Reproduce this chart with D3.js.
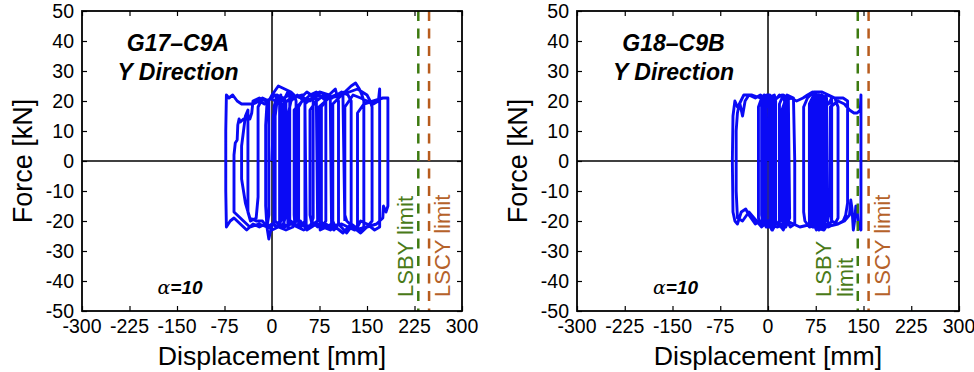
<!DOCTYPE html>
<html>
<head>
<meta charset="utf-8">
<script src="https://cdn.jsdelivr.net/npm/d3@7"></script>
<style>
  body { margin: 0; background: #fff; }
  svg { display: block; font-family: "Liberation Sans", Arial, sans-serif; }
</style>
</head>
<body>
<div id="chart"></div>
<script>
// ticks
var xTicks = [-300, -225, -150, -75, 0, 75, 150, 225, 300];
var yTicks = [-50, -40, -30, -20, -10, 0, 10, 20, 30, 40, 50];

// specimen names and limit positions (mm)
var specimens = ['G17\u2013C9A', 'G18\u2013C9B'];
var lsbyLimit = [231, 141];
var lscyLimit = [248, 158];

// hysteresis traces: [displacement mm, force kN]
var loopG17 = [
  [0,0],[2,15],[8,22],[15,21],[22,20],[22,-18],[18,-21],[8,-22],[0,-21],[-8,-22],
  [-10,-15],[-10,12],[-8,19],[-2,21],[5,20],[12,19],[14,22],[14,-20],[10,-22],[0,-23],
  [-10,-21],[-20,-22],[-30,-21],[-40,-23],[-50,-21],[-60,-19],[-66,-20],[-72,-22],[-73,-10],
  [-73,10],[-72,22],[-68,21],[-62,22],[-55,20],[-48,19],[-40,19],[-30,19],[-20,20],
  [-12,19],[-5,20],[-5,-18],[-8,-22],[-15,-20],[-25,-20],[-35,-19],[-42,-14],[-48,-6],
  [-48,5],[-45,10],[-42,15],[-38,17],[-38,0],[-38,-17],[-34,-20],[-25,-19],[-22,-12],
  [-22,18],[-15,21],[-5,20],[0,22],[10,25],[20,24],[30,23],[35,22],[38,20],[38,-20],
  [33,-22],[22,-23],[10,-22],[0,-21],[-5,-26],[-8,-22],[-20,-21],[-35,-22],[-45,-20],
  [-55,-18],[-60,-17],[-60,2],[-58,6],[-55,7],[-54,12],[-52,14],[-50,13],[-45,14],
  [-35,14],[-32,16],[-30,20],[-20,21],[-10,20],[0,21],[5,22],[18,20],[25,23],[32,22],
  [45,21],[55,23],[62,22],[65,20],[65,-19],[60,-22],[50,-21],[40,-22],[30,-20],[25,-22],
  [25,15],[30,20],[40,22],[50,20],[60,22],[70,23],[80,21],[85,20],[85,-20],[78,-22],
  [70,-21],[55,-23],[45,-20],[42,-22],[42,18],[50,21],[60,20],[75,23],[90,22],[100,24],
  [105,20],[105,-21],[98,-23],[85,-21],[72,-22],[62,-20],[60,-18],[60,17],[70,20],[82,22],
  [95,21],[110,23],[120,22],[125,20],[125,-22],[118,-24],[105,-21],[92,-23],[80,-22],
  [78,-20],[78,18],[88,21],[100,22],[115,23],[125,25],[132,26],[138,24],[142,22],[145,20],
  [145,-22],[138,-23],[125,-21],[112,-24],[100,-22],[96,-20],[96,19],[110,22],[122,23],
  [135,24],[150,22],[155,20],[158,18],[158,-20],[150,-22],[140,-24],[128,-22],[118,-20],
  [115,-18],[115,18],[128,22],[140,21],[150,20],[160,19],[168,20],[170,24],[170,-22],
  [162,-23],[150,-21],[140,-20],[135,-22],[135,16],[145,19],[160,20],[175,21],[183,21],
  [183,5],[183,-15],[180,-17],[176,-15],[175,-19],[165,-21],[150,-22],[130,-23],[110,-21],
  [90,-22],[70,-21],[50,-23],[30,-21],[15,-22],[5,-20],[5,15],[8,20],[12,21],[12,-20],
  [8,-22],[3,-21],[3,18],[8,22],[18,21],[28,22],[28,-21],[20,-22],[18,-19],[18,19],
  [30,21],[48,22],[52,20],[52,-20],[46,-22],[36,-21],[35,-18],[35,17],[48,20],[70,21],
  [72,-20],[65,-21],[54,-22],[52,19],[68,22],[92,21],[94,-21],[86,-22],[76,-23],[74,18],
  [90,21],[112,22],[115,-20]
];

var loopG18 = [
  [0,0],[2,18],[5,21],[8,20],[8,-20],[4,-22],[-2,-21],[-5,-20],[-5,18],[-2,21],[3,22],
  [6,20],[6,-19],[2,-22],[-8,-21],[-10,-18],[-10,19],[-6,22],[0,21],[10,22],[12,20],
  [12,-21],[7,-23],[0,-20],[-3,-22],[-3,20],[2,22],[5,19],[5,-22],[0,-21],[-12,-20],
  [-20,-21],[-30,-18],[-35,-16],[-42,-17],[-48,-21],[-52,-20],[-55,-17],[-56,0],[-55,15],
  [-52,20],[-48,18],[-44,19],[-40,15],[-36,20],[-30,22],[-20,21],[-12,22],[-5,21],[0,22],
  [3,20],[3,-21],[-2,-22],[-8,-20],[-8,17],[-4,21],[2,20],[4,-20],[0,-22],[-6,-21],[-6,20],
  [0,22],[6,21],[10,-21],[4,-22],[-12,-21],[-15,-19],[-15,18],[-10,21],[-2,22],[9,21],
  [10,18],[10,-19],[6,-23],[0,-20],[-10,-22],[-18,-20],[-30,-17],[-40,-20],[-48,-19],
  [-50,-10],[-50,10],[-48,16],[-45,19],[-38,22],[-25,22],[-12,21],[0,22],[8,20],[14,21],
  [22,22],[26,20],[26,-21],[20,-22],[12,-20],[10,-21],[10,20],[18,22],[28,21],[30,-20],
  [24,-23],[18,-21],[18,19],[24,22],[32,21],[34,-19],[28,-22],[22,-20],[22,17],[30,22],
  [40,21],[42,0],[42,-21],[35,-22],[28,-19],[28,20],[36,21],[45,20],[55,21],[62,22],
  [70,23],[75,22],[75,-20],[70,-22],[65,-21],[65,19],[72,22],[80,21],[82,-21],[76,-23],
  [70,-20],[70,20],[78,22],[85,20],[86,-22],[80,-23],[74,-21],[74,21],[80,22],[88,21],
  [90,-20],[84,-22],[78,-21],[78,20],[84,22],[92,21],[94,-21],[88,-23],[72,-22],[68,-20],
  [68,19],[76,22],[82,20],[83,-21],[77,-22],[72,-21],[72,20],[80,21],[88,20],[95,19],
  [100,21],[100,-20],[94,-22],[80,-21],[65,-22],[58,-20],[56,-17],[56,18],[62,21],
  [72,23],[85,23],[95,22],[105,21],[110,18],[110,-19],[105,-21],[95,-22],[85,-20],
  [82,-17],[82,19],[92,22],[105,21],[118,21],[125,20],[125,-14],[122,-18],[118,-20],
  [110,-21],[100,-20],[98,-18],[98,18],[110,20],[120,19],[128,17],[135,16],[140,16],
  [145,17],[146,22],[146,-23],[142,-22],[140,-16],[138,-15],[136,-20],[134,-23],[132,-16],
  [130,-13],[128,-18],[120,-20],[110,-21],[90,-22],[70,-21],[50,-22],[30,-20],[15,-22],
  [0,-21],[-5,-20],[-5,15],[0,21],[5,18]
];

var W = 974, H = 372;
var svg = d3.select('#chart').append('svg')
  .attr('width', W)
  .attr('height', H);

var panels = [
  {left: 82, right: 462, loop: loopG17},
  {left: 577, right: 959, loop: loopG18}
];
var plotTop = 11, plotBottom = 311;

panels.forEach(function(p, i) {
  var x = d3.scaleLinear().domain([-300, 300]).range([p.left, p.right]);
  var y = d3.scaleLinear().domain([-50, 50]).range([plotBottom, plotTop]);
  var g = svg.append('g');

  // inward ticks on all four sides
  var tickLen = 5;
  g.append('g').attr('transform', 'translate(0,' + plotBottom + ')')
    .call(d3.axisBottom(x).tickValues(xTicks).tickSize(-tickLen).tickFormat(''))
    .call(function(s) { s.select('.domain').remove(); });
  g.append('g').attr('transform', 'translate(0,' + plotTop + ')')
    .call(d3.axisTop(x).tickValues(xTicks).tickSize(-tickLen).tickFormat(''))
    .call(function(s) { s.select('.domain').remove(); });
  g.append('g').attr('transform', 'translate(' + p.left + ',0)')
    .call(d3.axisLeft(y).tickValues(yTicks).tickSize(-tickLen).tickFormat(''))
    .call(function(s) { s.select('.domain').remove(); });
  g.append('g').attr('transform', 'translate(' + p.right + ',0)')
    .call(d3.axisRight(y).tickValues(yTicks).tickSize(-tickLen).tickFormat(''))
    .call(function(s) { s.select('.domain').remove(); });
  g.selectAll('.tick line').attr('stroke', '#000').attr('stroke-width', 1.2);

  // zero lines
  g.append('line').attr('x1', x(0)).attr('x2', x(0)).attr('y1', plotTop).attr('y2', plotBottom)
    .attr('stroke', '#000').attr('stroke-width', 1.5);
  g.append('line').attr('x1', p.left).attr('x2', p.right).attr('y1', y(0)).attr('y2', y(0))
    .attr('stroke', '#000').attr('stroke-width', 1.5);

  // hysteresis
  var line = d3.line().x(function(d) { return x(d[0]); }).y(function(d) { return y(d[1]); });
  g.append('path').datum(p.loop).attr('d', line)
    .attr('fill', 'none').attr('stroke', '#0a0af5').attr('stroke-width', 2.9)
    .attr('stroke-linejoin', 'round');

  // limit lines
  g.append('line').attr('x1', x(lsbyLimit[i])).attr('x2', x(lsbyLimit[i]))
    .attr('y1', plotTop).attr('y2', plotBottom)
    .attr('stroke', '#3d7a10').attr('stroke-width', 2.5).attr('stroke-dasharray', '10,7.5');
  g.append('line').attr('x1', x(lscyLimit[i])).attr('x2', x(lscyLimit[i]))
    .attr('y1', plotTop).attr('y2', plotBottom)
    .attr('stroke', '#b85c1e').attr('stroke-width', 2.5).attr('stroke-dasharray', '10,7.5');

  // frame
  g.append('rect').attr('x', p.left).attr('y', plotTop)
    .attr('width', p.right - p.left).attr('height', plotBottom - plotTop)
    .attr('fill', 'none').attr('stroke', '#000').attr('stroke-width', 1.8);

  // tick labels
  g.selectAll('.xl').data(xTicks).enter().append('text')
    .attr('x', function(d) { return x(d); }).attr('y', 333)
    .attr('text-anchor', 'middle').attr('font-size', 19.5).text(function(d) { return d; });
  g.selectAll('.yl').data(yTicks).enter().append('text')
    .attr('x', p.left - 8).attr('y', function(d) { return y(d) + 7; })
    .attr('text-anchor', 'end').attr('font-size', 19.5).text(function(d) { return d; });

  // axis titles
  var cx = (p.left + p.right) / 2;
  g.append('text').attr('x', cx).attr('y', 365).attr('text-anchor', 'middle')
    .attr('font-size', 26.7).text('Displacement [mm]');
  g.append('text').attr('transform', 'translate(' + (p.left - 50) + ',' + y(0) + ') rotate(-90)')
    .attr('text-anchor', 'middle').attr('font-size', 27).text('Force [kN]');

  // annotations
  var tx = x(-150) + 1;
  g.append('text').attr('x', tx).attr('y', 51).attr('text-anchor', 'middle')
    .attr('font-size', 23).attr('font-weight', 'bold').attr('font-style', 'italic')
    .text(specimens[i]);
  g.append('text').attr('x', tx).attr('y', 80).attr('text-anchor', 'middle')
    .attr('font-size', 23).attr('font-weight', 'bold').attr('font-style', 'italic')
    .text('Y Direction');
  var a = g.append('text').attr('x', tx + 2).attr('y', 294).attr('text-anchor', 'middle')
    .attr('font-size', 19).attr('font-weight', 'bold').attr('font-style', 'italic');
  a.append('tspan').attr('font-family', '"DejaVu Serif", serif').attr('font-weight', 'normal').text('\u03b1');
  a.append('tspan').text('=10');

  // limit labels (rotated)
  if (i === 0) {
    g.append('text').attr('transform', 'translate(' + (x(lsbyLimit[i]) - 5) + ',297) rotate(-90)')
      .attr('font-size', 22).attr('fill', '#4a7a18').text('LSBY limit');
  } else {
    g.append('text').attr('transform', 'translate(' + (x(lsbyLimit[i]) - 27) + ',297) rotate(-90)')
      .attr('font-size', 22).attr('fill', '#4a7a18').text('LSBY');
    g.append('text').attr('transform', 'translate(' + (x(lsbyLimit[i]) - 5) + ',297) rotate(-90)')
      .attr('font-size', 22).attr('fill', '#4a7a18').text('limit');
  }
  g.append('text').attr('transform', 'translate(' + (x(lscyLimit[i]) + 21) + ',297) rotate(-90)')
    .attr('font-size', 22).attr('fill', '#b5622a').text('LSCY limit');
});
</script>
</body>
</html>
